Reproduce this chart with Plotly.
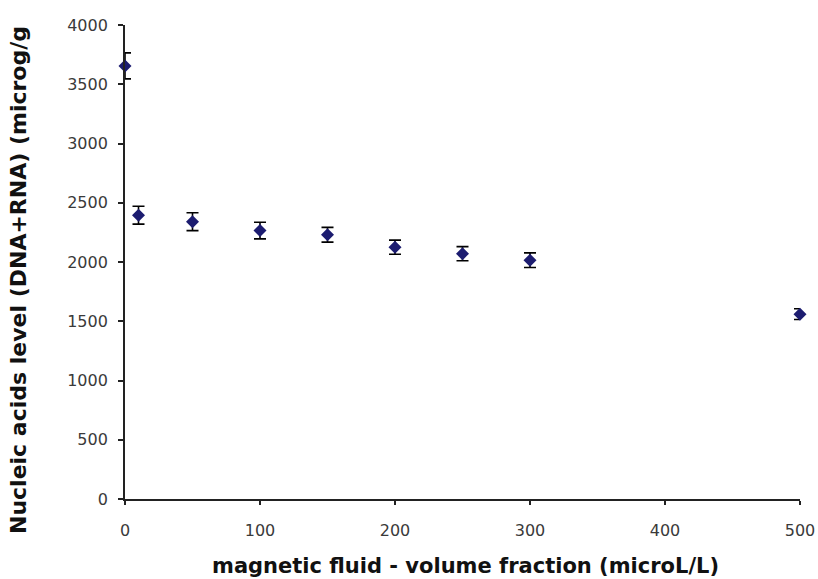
import plotly.graph_objects as go

volume_fraction = [0, 10, 50, 100, 150, 200, 250, 300, 500]
nucleic_acids = [3655, 2395, 2340, 2265, 2230, 2125, 2070, 2015, 1560]
error = [110, 75, 75, 70, 62, 60, 60, 62, 45]

x_ticks = [0, 100, 200, 300, 400, 500]
y_ticks = [0, 500, 1000, 1500, 2000, 2500, 3000, 3500, 4000]

x_title = "magnetic fluid - volume fraction (microL/L)"
y_title = "Nucleic acids level (DNA+RNA) (microg/g"

fig = go.Figure()
fig.add_trace(go.Scatter(
    x=volume_fraction, y=nucleic_acids, mode="markers",
    marker=dict(symbol="diamond", size=10, color="#1c1c70"),
    error_y=dict(type="data", array=error, visible=True, color="black",
                 thickness=1.6, width=6),
    cliponaxis=False, showlegend=False,
))

tick_font = dict(family="DejaVu Sans, Verdana, sans-serif", size=16, color="#3a3a3a")
x_title_font = dict(family="DejaVu Sans, Verdana, sans-serif", size=21, color="#111111")
y_title_font = dict(family="DejaVu Sans, Verdana, sans-serif", size=22, color="#111111")

fig.update_layout(
    width=818, height=579,
    margin=dict(l=125, r=18, t=25, b=80, autoexpand=False),
    paper_bgcolor="white", plot_bgcolor="white",
    xaxis=dict(
        range=[0, 500], tickvals=x_ticks, ticks="outside", ticklen=4,
        tickcolor="#222", tickwidth=1.5, showgrid=False, zeroline=False,
        showline=True, linecolor="#222", linewidth=1.8, automargin=False,
        tickfont=tick_font, ticklabelstandoff=12,
    ),
    yaxis=dict(
        range=[0, 4000], tickvals=y_ticks, ticks="outside", ticklen=5,
        tickcolor="#222", tickwidth=1.5, showgrid=False, zeroline=False,
        showline=True, linecolor="#222", linewidth=1.8, automargin=False,
        tickfont=tick_font, ticklabelstandoff=7,
    ),
    annotations=[
        dict(text="<b>" + x_title + "</b>", xref="paper", yref="paper",
             x=0.505, y=-0.142, xanchor="center", yanchor="middle",
             showarrow=False, font=x_title_font),
        dict(text="<b>" + y_title + "</b>", xref="paper", yref="paper",
             x=-0.1585, y=0.462, xanchor="center", yanchor="middle",
             textangle=-90, showarrow=False, font=y_title_font),
    ],
)

fig.write_html("out.html")
